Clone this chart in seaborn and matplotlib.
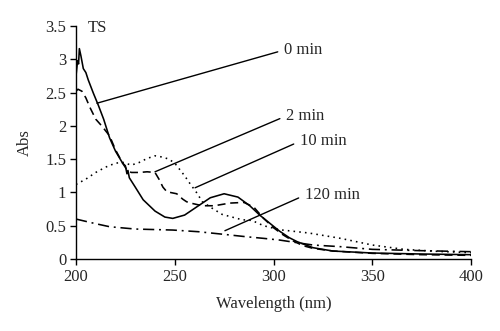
import matplotlib
matplotlib.use("Agg")
import matplotlib.pyplot as plt
import seaborn as sns
import pandas as pd

# ---- data ----
wl_0 = [200, 200.8, 201.3, 201.7, 202.5, 203.7, 205, 206.2, 208.8, 211.3, 214, 217, 220, 223.6, 225, 225.8, 226.3, 227, 230, 234, 240, 245, 249, 255, 262, 268, 275, 282, 288, 293, 298, 303, 308, 312, 320, 330, 350, 375, 400]
abs_0 = [2.75, 2.98, 2.93, 3.16, 3.05, 2.86, 2.8, 2.69, 2.49, 2.31, 2.1, 1.82, 1.62, 1.44, 1.4, 1.28, 1.33, 1.22, 1.08, 0.89, 0.72, 0.63, 0.61, 0.66, 0.8, 0.92, 0.98, 0.93, 0.8, 0.66, 0.54, 0.42, 0.32, 0.26, 0.17, 0.12, 0.09, 0.075, 0.065]

wl_2 = [200, 201, 203, 205, 207, 210, 213, 217, 220, 223.6, 226, 228, 232, 236, 240, 242, 244, 246, 251, 254, 256, 258, 264, 270, 278, 285, 290, 295, 300, 305, 310, 315, 320, 330, 350, 375, 400]
abs_2 = [2.52, 2.55, 2.52, 2.42, 2.28, 2.1, 2.0, 1.85, 1.64, 1.44, 1.33, 1.3, 1.3, 1.31, 1.3, 1.2, 1.08, 1.01, 0.98, 0.9, 0.86, 0.84, 0.8, 0.8, 0.84, 0.85, 0.78, 0.61, 0.47, 0.36, 0.27, 0.2, 0.16, 0.12, 0.085, 0.065, 0.055]

wl_10 = [200, 205, 210, 215, 220, 224, 228, 232, 236, 240, 244, 247, 250, 255, 258, 261, 264, 268, 274, 284, 289, 295, 303, 318, 334, 350, 366, 383, 400]
abs_10 = [1.12, 1.2, 1.3, 1.38, 1.44, 1.45, 1.41, 1.45, 1.51, 1.55, 1.53, 1.5, 1.44, 1.25, 1.12, 1.0, 0.86, 0.78, 0.67, 0.59, 0.58, 0.5, 0.44, 0.39, 0.31, 0.21, 0.145, 0.115, 0.095]

wl_120 = [200, 210, 217, 230, 249, 262, 275, 286, 295, 303, 312, 320, 334, 350, 375, 400]
abs_120 = [0.6, 0.53, 0.485, 0.45, 0.435, 0.41, 0.37, 0.335, 0.31, 0.285, 0.245, 0.21, 0.185, 0.145, 0.125, 0.11]

labels = ["0 min", "2 min", "10 min", "120 min"]
x_ticks = [200, 250, 300, 350, 400]
y_ticks = [0, 0.5, 1, 1.5, 2, 2.5, 3, 3.5]
y_tick_labels = ["0", "0.5", "1", "1.5", "2", "2.5", "3", "3.5"]

sns.set_style("ticks")
plt.rcParams['font.family'] = ['Liberation Serif', 'DejaVu Serif']

fig = plt.figure(figsize=(5.0, 3.31), dpi=100)
ax = fig.add_axes([0.152, 0.2175, 0.79, 0.704])

series = [(wl_0, abs_0, "-"), (wl_2, abs_2, (0, (5, 3))),
          (wl_10, abs_10, (0, (1, 2.6))), (wl_120, abs_120, (0, (7, 3, 1.2, 3)))]
for (wx, ay, ls), lab in zip(series, labels):
    df = pd.DataFrame({"Wavelength": wx, "Abs": ay})
    sns.lineplot(data=df, x="Wavelength", y="Abs", ax=ax, color="black",
                 linewidth=1.15, linestyle=ls, label=lab, legend=False)

# annotation pointers
ann = [("0 min", (210.6, 2.34), (305.5, 3.14)),
       ("2 min", (240, 1.31), (306.5, 2.15)),
       ("10 min", (260.3, 1.07), (313.5, 1.77)),
       ("120 min", (275.4, 0.425), (316.0, 0.96))]
for text, xy, xytext in ann:
    ax.annotate(text, xy=xy, xytext=xytext, fontsize=12, va="center", ha="left",
                arrowprops=dict(arrowstyle="-", color="black", lw=1.0,
                                shrinkA=2.5, shrinkB=0,
                                relpos=(0, 0.5)))

ax.text(206.0, 3.47, "TS", fontsize=12, va="center", ha="left")

ax.set_xlim(200, 400)
ax.set_ylim(0, 3.5)
ax.set_xticks(x_ticks)
ax.set_xticklabels([str(t) for t in x_ticks])
ax.set_yticks(y_ticks)
ax.set_yticklabels(y_tick_labels)
ax.tick_params(labelsize=12, length=4, width=1, color="black", direction="out", pad=3)
ax.set_xlabel("Wavelength (nm)", fontsize=12, labelpad=8)
ax.set_ylabel("Abs", fontsize=12, labelpad=9)
for s in ["top", "right"]:
    ax.spines[s].set_visible(False)
for s in ["left", "bottom"]:
    ax.spines[s].set_color("black")
    ax.spines[s].set_linewidth(1.0)

fig.savefig("out.png", dpi=100)
